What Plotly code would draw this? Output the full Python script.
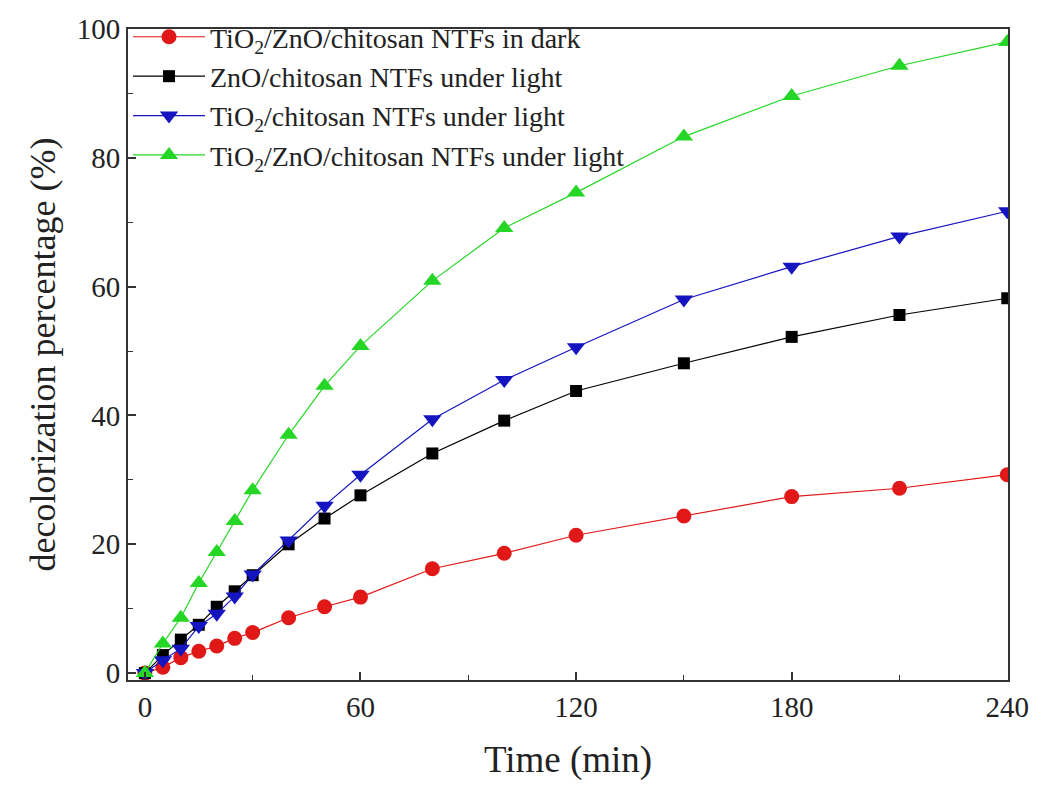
import plotly.graph_objects as go

# Sampling times (min)
time_min = [0, 5, 10, 15, 20, 25, 30, 40, 50, 60, 80, 100, 120, 150, 180, 210, 240]

# Decolorization percentage (%) for each sample
dark_tzc = [0, 0.9, 2.4, 3.4, 4.2, 5.4, 6.3, 8.6, 10.3, 11.8, 16.2, 18.6, 21.4, 24.4, 27.4, 28.7, 30.8]
light_zc = [0, 2.8, 5.2, 7.5, 10.3, 12.7, 15.2, 20.0, 24.0, 27.6, 34.1, 39.2, 43.8, 48.1, 52.2, 55.6, 58.2]
light_tc = [0, 2.0, 3.8, 7.3, 9.2, 11.9, 15.3, 20.6, 26.0, 30.8, 39.4, 45.5, 50.6, 58.0, 63.1, 67.8, 71.7]
light_tzc = [0, 4.6, 8.6, 14.0, 18.8, 23.6, 28.4, 37.0, 44.6, 50.8, 60.9, 69.1, 74.6, 83.3, 89.6, 94.3, 98.0]

series_names = [
    "TiO<sub>2</sub>/ZnO/chitosan NTFs in dark",
    "ZnO/chitosan NTFs under light",
    "TiO<sub>2</sub>/chitosan NTFs under light",
    "TiO<sub>2</sub>/ZnO/chitosan NTFs under light",
]

x_ticks = [0, 60, 120, 180, 240]
y_ticks = [0, 20, 40, 60, 80, 100]

FONT = "Liberation Serif, Times New Roman, serif"

styles = [
    dict(color="#e01818", symbol="circle", size=15),
    dict(color="#000000", symbol="square", size=12),
    dict(color="#1414c0", symbol="triangle-down", size=16),
    dict(color="#26d626", symbol="triangle-up", size=16),
]

fig = go.Figure()
for name, vals, st in zip(series_names, [dark_tzc, light_zc, light_tc, light_tzc], styles):
    fig.add_trace(go.Scatter(
        x=time_min, y=vals, name=name, mode="lines+markers",
        line=dict(color=st["color"], width=1.2),
        marker=dict(color=st["color"], symbol=st["symbol"], size=st["size"], line=dict(width=0)),
        cliponaxis=True,
    ))

axis_common = dict(
    showline=True, linecolor="#333333", linewidth=2, mirror=True,
    ticks="inside", ticklen=8, tickwidth=1.5, tickcolor="#333333",
    showgrid=False, zeroline=False,
    tickfont=dict(family=FONT, size=29, color="#222222"),
)

fig.update_layout(
    width=1041, height=785,
    margin=dict(l=128, r=31, t=20, b=105),
    paper_bgcolor="white", plot_bgcolor="white",
    font=dict(family=FONT, color="#222222"),
    legend=dict(
        x=0.0, y=1.026, xanchor="left", yanchor="top",
        bgcolor="rgba(0,0,0,0)", borderwidth=0,
        font=dict(family=FONT, size=28, color="#222222"),
        itemwidth=72, tracegroupgap=0,
    ),
    xaxis=dict(
        range=[-4.7, 240.2], tickvals=x_ticks, ticktext=[str(v) for v in x_ticks],
        minor=dict(ticks="inside", ticklen=5, tickwidth=1.2, tickcolor="#333333", dtick=30, tick0=0),
        title=dict(text="Time (min)", font=dict(family=FONT, size=37, color="#222222"), standoff=24),
        **axis_common,
    ),
    yaxis=dict(
        range=[-1.07, 100], tickvals=y_ticks, ticktext=[str(v) for v in y_ticks],
        minor=dict(ticks="inside", ticklen=5, tickwidth=1.2, tickcolor="#333333", dtick=10, tick0=0),
        title=dict(text="decolorization percentage (%)", font=dict(family=FONT, size=36, color="#222222"), standoff=10),
        **axis_common,
    ),
)

fig.write_html("out.html")
